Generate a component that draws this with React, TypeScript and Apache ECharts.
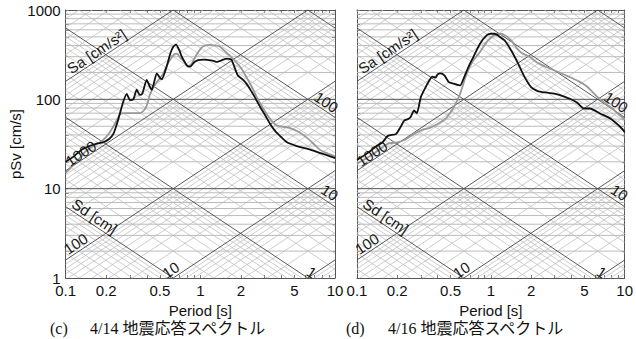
import React, { useEffect, useRef } from 'react';
import * as echarts from 'echarts';

// ---------- data (period [s], pSv [cm/s]) ----------
const periodLabels = [0.1, 0.2, 0.5, 1, 2, 5, 10];
const periodMinorTicks = [0.1, 0.2, 0.3, 0.4, 0.5, 0.6, 0.7, 0.8, 0.9, 1, 2, 3, 4, 5, 6, 7, 8, 9, 10];
const svLabels = [1, 10, 100, 1000];
const svMinorTicks = [1, 2, 3, 4, 5, 6, 7, 8, 9, 10, 20, 30, 40, 50, 60, 70, 80, 90, 100, 200, 300, 400, 500, 600, 700, 800, 900, 1000];

// 4/14 panel
const leftBlack: [number, number][] = [
  [0.1, 20], [0.115, 23], [0.13, 27], [0.15, 30], [0.17, 32], [0.19, 33], [0.21, 36], [0.226, 41],
  [0.246, 60], [0.265, 90], [0.284, 115], [0.3, 98], [0.318, 100], [0.337, 128], [0.355, 112],
  [0.37, 115], [0.4, 165], [0.42, 140], [0.436, 128], [0.475, 195], [0.5, 175], [0.517, 168],
  [0.563, 235], [0.6, 330], [0.631, 390], [0.66, 410], [0.7, 350], [0.728, 300], [0.794, 240],
  [0.84, 232], [0.9, 260], [0.96, 275], [1.05, 278], [1.12, 276], [1.25, 270], [1.33, 262],
  [1.45, 275], [1.58, 285], [1.67, 282], [1.72, 270], [1.8, 225], [1.9, 185], [2.05, 168],
  [2.2, 150], [2.33, 131], [2.5, 110], [2.78, 82], [3.0, 68], [3.3, 53], [3.6, 44], [3.9, 39],
  [4.4, 33], [5.2, 30], [6.2, 28], [7.8, 25], [9.2, 23], [10, 22],
];
const leftGray: [number, number][] = [
  [0.1, 15], [0.12, 20], [0.14, 26], [0.16, 30], [0.18, 33], [0.2, 38], [0.213, 43], [0.235, 55],
  [0.253, 68], [0.28, 70], [0.32, 70], [0.356, 70], [0.38, 75], [0.4, 85], [0.42, 110], [0.448, 137],
  [0.49, 165], [0.53, 194], [0.565, 240], [0.595, 275], [0.64, 320], [0.668, 325], [0.72, 285],
  [0.75, 270], [0.81, 232], [0.86, 250], [0.93, 310], [1.0, 365], [1.06, 395], [1.17, 408],
  [1.29, 400], [1.38, 395], [1.57, 330], [1.67, 305], [1.87, 255], [2.0, 225], [2.2, 177],
  [2.4, 140], [2.62, 106], [2.85, 85], [3.1, 69], [3.4, 57], [3.7, 51], [4.2, 49], [4.6, 48],
  [5.4, 43], [6.2, 37], [6.9, 32], [7.8, 27], [8.7, 25], [10, 23],
];

// 4/16 panel
const rightBlack: [number, number][] = [
  [0.1, 21], [0.12, 25], [0.14, 30], [0.155, 33], [0.17, 39], [0.196, 41], [0.21, 48], [0.226, 58],
  [0.24, 60], [0.251, 63], [0.267, 75], [0.28, 70], [0.3, 106], [0.326, 137], [0.345, 160],
  [0.365, 180], [0.387, 175], [0.4, 190], [0.42, 195], [0.45, 185], [0.485, 156], [0.528, 150],
  [0.59, 143], [0.625, 170], [0.68, 230], [0.74, 297], [0.83, 419], [0.93, 519], [1.0, 542],
  [1.07, 542], [1.15, 510], [1.27, 456], [1.42, 352], [1.6, 251], [1.79, 177], [2.0, 137],
  [2.2, 125], [2.37, 121], [2.7, 118], [2.97, 116], [3.33, 111], [3.94, 101], [4.4, 92],
  [4.95, 79], [5.5, 79], [6.6, 69], [7.8, 61], [9.3, 49], [10, 43],
];
const rightGray: [number, number][] = [
  [0.1, 19], [0.13, 24], [0.15, 28], [0.17, 32], [0.2, 33], [0.226, 35], [0.26, 40], [0.3, 45],
  [0.35, 48], [0.4, 53], [0.44, 58], [0.47, 63], [0.53, 82], [0.59, 116], [0.66, 194], [0.74, 273],
  [0.83, 338], [0.93, 437], [1.05, 519], [1.2, 542], [1.3, 510], [1.42, 456], [1.55, 380],
  [1.7, 330], [1.97, 297], [2.2, 260], [2.6, 230], [3.0, 210], [3.8, 180], [4.5, 160],
  [5.2, 140], [6.2, 108], [7.0, 92], [8.0, 80], [9.0, 68], [10, 60],
];

const captions = [
  { tag: '(c)', text: '4/14 地震応答スペクトル' },
  { tag: '(d)', text: '4/16 地震応答スペクトル' },
];

// tripartite labels: kind, constant value, text, period where label sits
const tripartiteLabels = [
  { kind: 'sa', value: 10000, text: 'Sa [cm/s²]', t: 0.183, off: 8 },
  { kind: 'sa', value: 1000, text: '1000', t: 0.137, off: 6 },
  { kind: 'sa', value: 100, text: '100', t: 0.128, off: 8 },
  { kind: 'sa', value: 10, text: '10', t: 0.65, off: 8 },
  { kind: 'sd', value: 0.1, text: 'Sd [cm]', t: 0.152, off: 8 },
  { kind: 'sd', value: 100, text: '100', t: 8.0, off: 8 },
  { kind: 'sd', value: 10, text: '10', t: 8.4, off: 9 },
  { kind: 'sd', value: 1, text: '1', t: 6.3, off: 7 },
];

// ---------- helpers ----------
const TMIN = 0.1, TMAX = 10, VMIN = 1, VMAX = 1000;
const TWO_PI = 2 * Math.PI;
const svFromSa = (sa: number, t: number) => (sa * t) / TWO_PI;
const svFromSd = (sd: number, t: number) => (TWO_PI * sd) / t;

type Pt = [number, number] | ['-', '-'];

function tripartite(major: boolean): { sa: Pt[]; sd: Pt[]; hz: Pt[] } {
  const sa: Pt[] = [];
  const sd: Pt[] = [];
  const hz: Pt[] = [];
  const ks = major ? [1] : [2, 3, 4, 5, 6, 7, 8, 9];
  for (let n = -2; n <= 6; n++) {
    for (const k of ks) {
      const a = k * Math.pow(10, n);
      const t0 = Math.max(TMIN, (TWO_PI * VMIN) / a);
      const t1 = Math.min(TMAX, (TWO_PI * VMAX) / a);
      if (t1 > t0) sa.push([t0, svFromSa(a, t0)], [t1, svFromSa(a, t1)], ['-', '-']);
    }
  }
  for (let n = -4; n <= 4; n++) {
    for (const k of ks) {
      const d = k * Math.pow(10, n);
      const t0 = Math.max(TMIN, (TWO_PI * d) / VMAX);
      const t1 = Math.min(TMAX, (TWO_PI * d) / VMIN);
      if (t1 > t0) sd.push([t0, svFromSd(d, t0)], [t1, svFromSd(d, t1)], ['-', '-']);
    }
  }
  for (const v of svMinorTicks) {
    const isMajor = v === 10 || v === 100;
    if (isMajor === major && v !== 1 && v !== 1000) hz.push([TMIN, v], [TMAX, v], ['-', '-']);
  }
  return { sa, sd, hz };
}

const FONT = "'Liberation Sans', Arial, sans-serif";
const SERIF = "'Liberation Serif', 'Times New Roman', 'Noto Sans CJK JP', serif";
const AXIS_COLOR = '#555';
const MINOR_COLOR = '#bcbcbc';
const MAJOR_COLOR = '#474747';

const gridBoxes = [
  { left: 65.7, top: 10, width: 269.3, height: 268 },
  { left: 357, top: 10, width: 271, height: 268 },
];

const fmt = (v: number) => String(+Number(v).toPrecision(6));

export default function App() {
  const ref = useRef<HTMLDivElement>(null);
  useEffect(() => {
    if (!ref.current) return;
    const chart = echarts.init(ref.current, undefined, { renderer: 'svg' });
    const minor = tripartite(false);
    const major = tripartite(true);

    const xAxis: any[] = [];
    const yAxis: any[] = [];
    const series: any[] = [];
    gridBoxes.forEach((_, gi) => {
      const tick = (vals: number[]) => ({
        show: true, inside: true, length: 3, customValues: vals,
        lineStyle: { color: AXIS_COLOR, width: 0.8 },
      });
      xAxis.push({
        type: 'log', gridIndex: gi, min: TMIN, max: TMAX, position: 'bottom',
        name: 'Period [s]', nameLocation: 'middle', nameGap: 22,
        nameTextStyle: { fontFamily: FONT, fontSize: 15, color: '#111' },
        axisLine: { show: true, lineStyle: { color: AXIS_COLOR, width: 1 } },
        axisTick: tick(periodMinorTicks),
        axisLabel: { show: true, customValues: periodLabels, margin: 5, fontFamily: FONT, fontSize: 15, color: '#111', formatter: fmt },
        splitLine: { show: false }, minorTick: { show: false }, minorSplitLine: { show: false },
      });
      xAxis.push({
        type: 'log', gridIndex: gi, min: TMIN, max: TMAX, position: 'top',
        axisLine: { show: true, lineStyle: { color: AXIS_COLOR, width: 1 } },
        axisTick: tick(periodMinorTicks), axisLabel: { show: false }, splitLine: { show: false },
      });
      yAxis.push({
        type: 'log', gridIndex: gi, min: VMIN, max: VMAX, position: 'left',
        name: gi === 0 ? 'pSv [cm/s]' : '', nameLocation: 'middle', nameGap: 42,
        nameTextStyle: { fontFamily: FONT, fontSize: 15, color: '#111' },
        axisLine: { show: true, lineStyle: { color: AXIS_COLOR, width: 1 } },
        axisTick: tick(svMinorTicks),
        axisLabel: { show: gi === 0, customValues: svLabels, margin: 5, fontFamily: FONT, fontSize: 15, color: '#111', formatter: fmt },
        splitLine: { show: false },
      });
      yAxis.push({
        type: 'log', gridIndex: gi, min: VMIN, max: VMAX, position: 'right',
        axisLine: { show: true, lineStyle: { color: AXIS_COLOR, width: 1 } },
        axisTick: tick(svMinorTicks), axisLabel: { show: false }, splitLine: { show: false },
      });
      const xi = gi * 2, yi = gi * 2;
      const lineSeries = (data: Pt[], color: string, width: number, z: number) => ({
        type: 'line', xAxisIndex: xi, yAxisIndex: yi, data, symbol: 'none', showSymbol: false,
        connectNulls: false, silent: true, z, lineStyle: { color, width }, emphasis: { disabled: true },
      });
      series.push(lineSeries(minor.sa, MINOR_COLOR, 0.75, 1));
      series.push(lineSeries(minor.sd, MINOR_COLOR, 0.75, 1));
      series.push(lineSeries(minor.hz, MINOR_COLOR, 1, 1));
      series.push(lineSeries(major.hz, '#555555', 1, 2));
      series.push(lineSeries(major.sa, MAJOR_COLOR, 0.9, 2));
      series.push(lineSeries(major.sd, MAJOR_COLOR, 0.9, 2));
      const gray = gi === 0 ? leftGray : rightGray;
      const black = gi === 0 ? leftBlack : rightBlack;
      series.push({ ...lineSeries(gray, '#999999', 1.8, 5), smooth: 0.2 });
      series.push({ ...lineSeries(black, '#111111', 1.8, 6), smooth: 0.2 });
    });

    chart.setOption({
      animation: false,
      backgroundColor: '#ffffff',
      grid: gridBoxes.map((g) => ({ ...g, containLabel: false })),
      xAxis, yAxis, series,
    });

    const graphics: any[] = [];
    gridBoxes.forEach((g, gi) => {
      const finder = { xAxisIndex: gi * 2, yAxisIndex: gi * 2 };
      tripartiteLabels.forEach((lb) => {
        const f = (t: number) => (lb.kind === 'sa' ? svFromSa(lb.value, t) : svFromSd(lb.value, t));
        const p1 = chart.convertToPixel(finder as any, [lb.t, f(lb.t)]) as number[];
        const p2 = chart.convertToPixel(finder as any, [lb.t * 1.1, f(lb.t * 1.1)]) as number[];
        const dx = p2[0] - p1[0], dy = p2[1] - p1[1];
        const len = Math.hypot(dx, dy) || 1;
        const ux = dx / len, uy = dy / len;
        graphics.push({
          type: 'text', x: p1[0] + uy * lb.off, y: p1[1] - ux * lb.off,
          rotation: Math.atan2(-dy, dx), z: 20,
          style: { text: lb.text, fontFamily: FONT, fontSize: 15, fill: '#1a1a1a', align: 'center', verticalAlign: 'middle' },
        });
      });
      const capX = gi === 0 ? [50, 90] : [346, 388];
      graphics.push({
        type: 'text', x: capX[0], y: 328,
        style: { text: captions[gi].tag, fontFamily: SERIF, fontSize: 16, fill: '#111', align: 'left', verticalAlign: 'middle' },
      });
      graphics.push({
        type: 'text', x: capX[1], y: 328,
        style: { text: captions[gi].text, fontFamily: SERIF, fontSize: 16, fill: '#111', align: 'left', verticalAlign: 'middle' },
      });
    });
    chart.setOption({ graphic: graphics });

    return () => chart.dispose();
  }, []);
  return <div ref={ref} style={{ position: 'fixed', left: 0, top: 0, width: 636, height: 339, background: '#fff' }} />;
}
